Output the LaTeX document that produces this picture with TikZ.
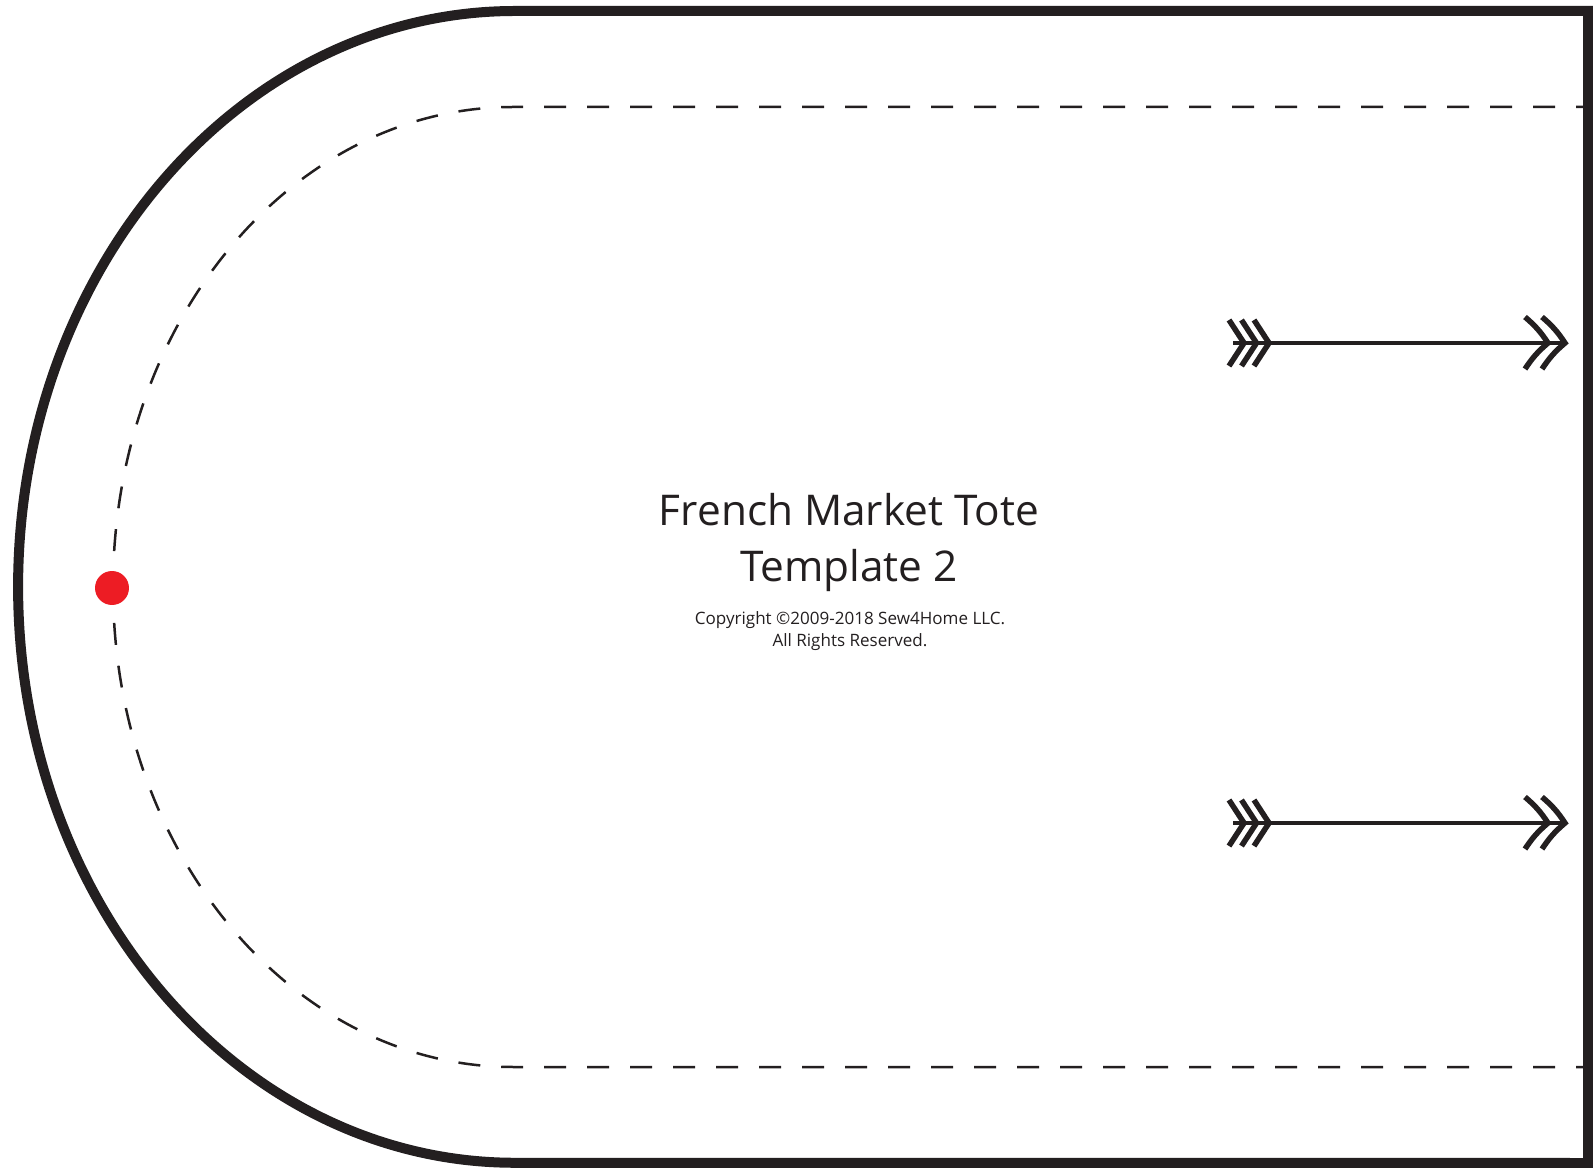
\documentclass[tikz,border=0pt]{standalone}
\usepackage{fontspec}
\setmainfont{Open Sans}
\usetikzlibrary{positioning}
\definecolor{inkblack}{HTML}{231F20}
\definecolor{notchred}{HTML}{ED1C24}
\tikzset{
    cutline/.style={draw=inkblack,line width=0.2cm,line join=miter},
    seamline/.style={draw=inkblack,line width=0.05cm,dash pattern=on 0.44cm off 0.42cm,dash phase=0.2cm},
    grainline/.style={draw=inkblack,line width=0.09cm},
    chevron/.style={draw=inkblack,line width=0.11cm,line join=miter},
    notchdot/.style={circle,fill=notchred,minimum size=0.68cm,inner sep=0pt},
    titletext/.style={anchor=base,text=inkblack,font=\fontsize{24.1}{28}\selectfont},
    notetext/.style={anchor=base,text=inkblack,font=\fontsize{9.7}{12}\selectfont},
}
\begin{document}
\begin{tikzpicture}[x=0.02cm,y=-0.02cm]
    \useasboundingbox[fill=white] (0,0) rectangle (1593,1168);
    % Cutting line
    \draw[cutline] (1588,11) -- (515,11)
        arc[start angle=90,end angle=270,x radius=9.94cm,y radius=11.52cm]
        -- (1588,1163) -- cycle;
    % Seam allowance
    \draw[seamline] (1588,107) -- (513,107)
        arc[start angle=90,end angle=180,x radius=8cm,y radius=9.6cm];
    \draw[seamline] (1588,1067) -- (513,1067)
        arc[start angle=270,end angle=180,x radius=8cm,y radius=9.6cm];
    % Notch
    \node[notchdot] (notch) at (112,588) {};
    % Grain lines
    \foreach \y in {343,823} {
        \draw[grainline] (1233,\y) -- (1563,\y);
        \foreach \x in {0,12.5,25}
            \draw[chevron] (1229+\x,\y-23) -- (1244+\x,\y) -- (1229+\x,\y+23);
        \foreach \x in {0,17}
            \draw[chevron] (1525+\x,\y-26) to[bend left=8] (1548+\x,\y) to[bend right=8] (1525+\x,\y+26);
    }
    % Labels
    \node[titletext] (title) at (849,526) {French Market Tote};
    \node[titletext] (subtitle) at (849,582) {Template 2};
    \node[notetext] (copyright) at (850,625) {Copyright ©2009-2018 Sew4Home LLC.};
    \node[notetext] (rights) at (850,647) {All Rights Reserved.};
\end{tikzpicture}
\end{document}
